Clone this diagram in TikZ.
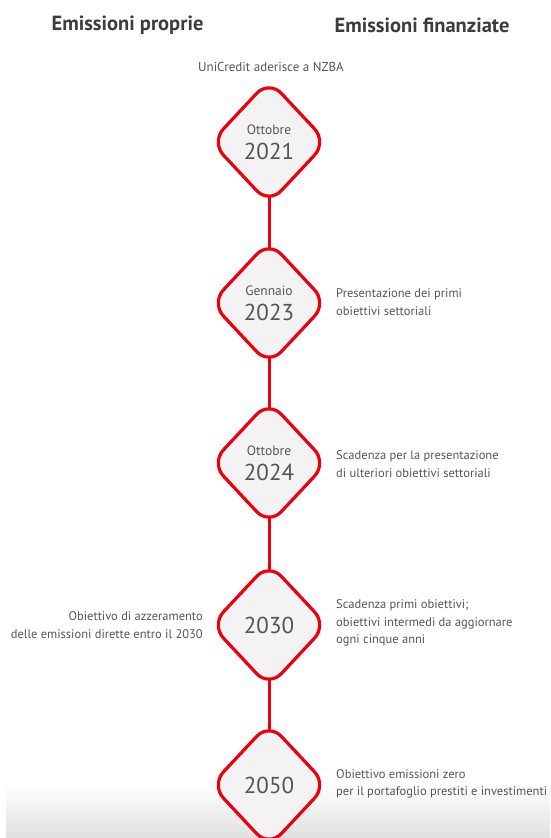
\documentclass[tikz,border=0pt]{standalone}
\usepackage{fontspec}
\setmainfont{PT Sans}
\usetikzlibrary{shapes.geometric,backgrounds}
\definecolor{ucred}{RGB}{234,0,14}
\definecolor{dfill}{RGB}{243,243,243}
\definecolor{headgray}{RGB}{60,60,60}
\definecolor{txtgray}{RGB}{85,85,85}
\definecolor{shadegray}{RGB}{224,224,224}
\begin{document}
\begin{tikzpicture}[x=1pt,y=-1pt,
  milestone/.style={diamond, draw=ucred, line width=3.2pt, fill=dfill,
    minimum width=117pt, minimum height=125pt, inner sep=0pt,
    rounded corners=18pt, align=center, text=txtgray,
    font=\fontsize{23}{25}\selectfont},
  link/.style={draw=ucred, line width=3pt},
  heading/.style={font=\bfseries\fontsize{20.5}{24}\selectfont, text=headgray, inner sep=0pt},
  note/.style={font=\fontsize{12.5}{17.5}\selectfont, text=txtgray, inner sep=0pt}
]
\useasboundingbox (0,0) rectangle (550,838);

\node[heading] (hl) at (127.5,25) {Emissioni proprie};
\node[heading] (hr) at (422,25) {Emissioni finanziate};
\node[note, font=\fontsize{13}{16}\selectfont] (top) at (271,67) {UniCredit aderisce a NZBA};

\node[milestone] (d1) at (269,142) {{\fontsize{13.5}{15}\selectfont Ottobre}\\2021};
\node[milestone] (d2) at (269,303) {{\fontsize{13.5}{15}\selectfont Gennaio}\\2023};
\node[milestone] (d3) at (269,463) {{\fontsize{13.5}{15}\selectfont Ottobre}\\2024};
\node[milestone] (d4) at (269,625) {2030};
\node[milestone] (d5) at (269,785) {2050};

\node[note, anchor=west, align=left] (n2) at (336,302)
  {Presentazione dei primi\\obiettivi settoriali};
\node[note, anchor=west, align=left] (n3) at (336,464)
  {Scadenza per la presentazione\\di ulteriori obiettivi settoriali};
\node[note, anchor=west, align=left] (n4r) at (336,623)
  {Scadenza primi obiettivi;\\obiettivi intermedi da aggiornare\\ogni cinque anni};
\node[note, anchor=east, align=right] (n4l) at (203,625)
  {Obiettivo di azzeramento\\delle emissioni dirette entro il 2030};
\node[note, anchor=west, align=left] (n5) at (336,784)
  {Obiettivo emissioni zero\\per il portafoglio prestiti e investimenti};

\begin{scope}[on background layer]
  \shade[top color=white, bottom color=shadegray] (6,783) rectangle (550,838);
  \draw[link] (d1.center) -- (d2.center);
  \draw[link] (d2.center) -- (d3.center);
  \draw[link] (d3.center) -- (d4.center);
  \draw[link] (d4.center) -- (d5.center);
\end{scope}
\end{tikzpicture}
\end{document}
